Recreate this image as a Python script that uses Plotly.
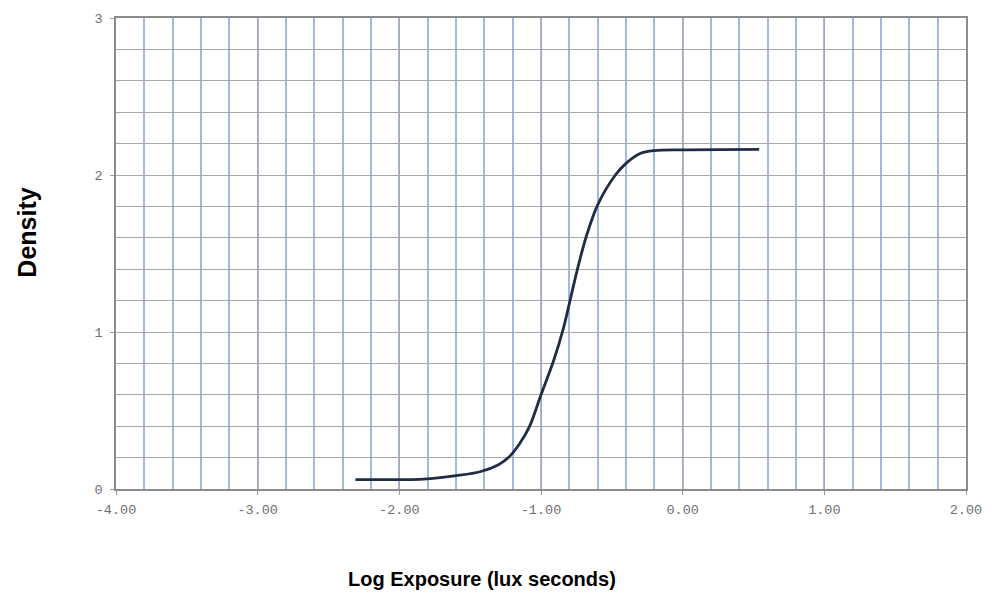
import plotly.graph_objects as go

log_exposure = [-2.31, -2.0, -1.83, -1.6, -1.43, -1.3, -1.23, -1.15, -1.08, -1.0,
                -0.91, -0.84, -0.79, -0.74, -0.68, -0.6, -0.475, -0.4, -0.3, -0.2,
                0.0, 0.54]
density = [0.06, 0.06, 0.063, 0.085, 0.11, 0.155, 0.2, 0.29, 0.4, 0.6,
           0.82, 1.03, 1.22, 1.41, 1.61, 1.81, 2.0, 2.074, 2.137, 2.155,
           2.16, 2.163]

x_ticks = [-4, -3, -2, -1, 0, 1, 2]
x_tick_labels = ["-4.00", "-3.00", "-2.00", "-1.00", "0.00", "1.00", "2.00"]
y_ticks = [0, 1, 2, 3]
y_tick_labels = ["0", "1", "2", "3"]

fig = go.Figure()
fig.add_trace(go.Scatter(
    x=log_exposure, y=density, mode="lines",
    line=dict(color="#1f2d44", width=2.8, shape="spline", smoothing=0.9),
    showlegend=False, hoverinfo="skip"))

tick_font = dict(family="Liberation Mono, Courier New, monospace", size=13.5, color="#6e6e6e")

fig.update_layout(
    width=995, height=599,
    margin=dict(l=116, r=29, t=15, b=110),
    paper_bgcolor="white", plot_bgcolor="white",
    xaxis=dict(
        range=[-4, 2], tickmode="array", tickvals=x_ticks, ticktext=x_tick_labels,
        tickfont=tick_font, ticks="outside", ticklen=4, tickcolor="#999999",
        ticklabelstandoff=3,
        showgrid=True, gridcolor="#a8a8a8", gridwidth=1,
        minor=dict(dtick=0.2, showgrid=True, gridcolor="#a3b9e0", gridwidth=1.5, ticks=""),
        showline=True, linecolor="#8c8c8c", linewidth=1.5, mirror=True,
        zeroline=False, fixedrange=True),
    yaxis=dict(
        range=[0, 3], tickmode="array", tickvals=y_ticks, ticktext=y_tick_labels,
        tickfont=tick_font, ticks="outside", ticklen=4, tickcolor="#999999",
        ticklabelstandoff=5,
        showgrid=True, gridcolor="#a8a8a8", gridwidth=1,
        minor=dict(dtick=0.2, showgrid=True, gridcolor="#a8a8a8", gridwidth=1, ticks=""),
        showline=True, linecolor="#8c8c8c", linewidth=1.5, mirror=True,
        zeroline=False, fixedrange=True),
    annotations=[
        dict(text="<b>Log Exposure (lux seconds)</b>", xref="paper", yref="paper",
             x=(482 - 116) / 850, y=-(580 - 489) / 474, xanchor="center", yanchor="middle",
             showarrow=False, font=dict(family="Liberation Sans, Arial", size=20, color="black")),
        dict(text="<b>Density</b>", xref="paper", yref="paper",
             x=-(116 - 27) / 850, y=(489 - 231) / 474, xanchor="center", yanchor="middle",
             textangle=-90, showarrow=False,
             font=dict(family="Liberation Sans, Arial", size=25, color="black")),
    ],
)

fig.write_html("out.html")
